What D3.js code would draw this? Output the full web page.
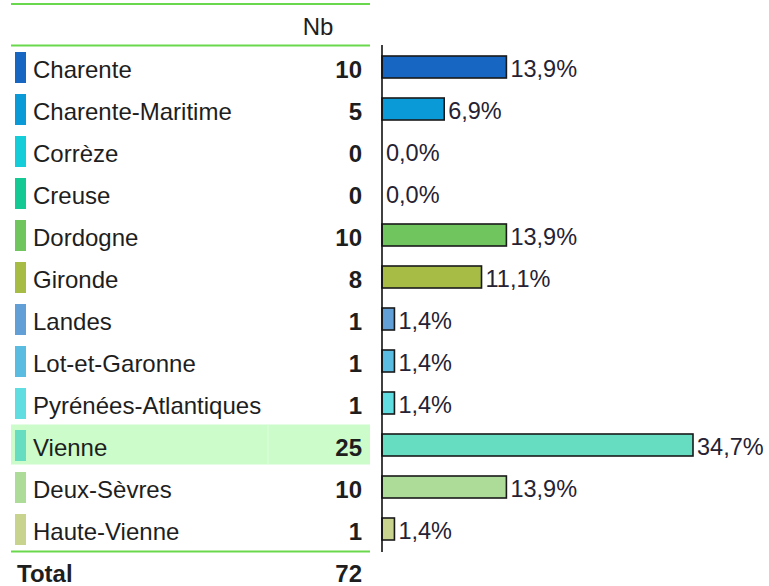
<!DOCTYPE html>
<html>
<head>
<meta charset="utf-8">
<script src="https://cdn.jsdelivr.net/npm/d3@7"></script>
<style>
    html, body { margin: 0; padding: 0; background: #fff; }
    svg text { font-family: "Liberation Sans", Arial, sans-serif; fill: #1e1e1e; }
</style>
</head>
<body>
<div id="chart"></div>
<script>
(function () {
    'use strict';

    // departements and their counts
    var categories = ['Charente', 'Charente-Maritime', 'Corrèze', 'Creuse', 'Dordogne', 'Gironde',
        'Landes', 'Lot-et-Garonne', 'Pyrénées-Atlantiques', 'Vienne', 'Deux-Sèvres', 'Haute-Vienne'];
    var counts = [10, 5, 0, 0, 10, 8, 1, 1, 1, 25, 10, 1];
    var colors = ['#1766c2', '#0a9ad8', '#14cdd8', '#14c994', '#70c55e', '#a6bc45',
        '#629fd7', '#5bbce2', '#60dde0', '#66dcc0', '#acdc98', '#c8d48e'];
    var highlighted = 'Vienne';
    var headerLabel = 'Nb';
    var totalLabel = 'Total';

    var total = d3.sum(counts);
    var rows = categories.map(function (c, i) {
        return { name: c, count: counts[i], pct: counts[i] / total * 100, color: colors[i] };
    });

    var width = 769, height = 586;
    var tableLeft = 11, tableRight = 370;
    var valueRight = 362;
    var rowTop = 46.5, rowH = 42;
    var fontSize = 24;

    var svg = d3.select('#chart').append('svg')
        .attr('width', width)
        .attr('height', height);

    var y = d3.scaleBand()
        .domain(categories)
        .range([rowTop, rowTop + rowH * categories.length]);

    var x = d3.scaleLinear()
        .domain([0, d3.max(rows, function (d) { return d.pct; })])
        .range([382, 693]);

    // header lines
    svg.append('line')
        .attr('x1', tableLeft).attr('x2', tableRight)
        .attr('y1', 4).attr('y2', 4)
        .attr('stroke', '#6ad84c').attr('stroke-width', 2);
    svg.append('text')
        .attr('x', 318).attr('y', 35)
        .attr('text-anchor', 'middle')
        .style('font-size', fontSize + 'px')
        .text(headerLabel);
    svg.append('line')
        .attr('x1', tableLeft).attr('x2', tableRight)
        .attr('y1', 45.5).attr('y2', 45.5)
        .attr('stroke', '#6ad84c').attr('stroke-width', 2);

    var row = svg.selectAll('.row')
        .data(rows)
        .enter()
        .append('g')
        .attr('class', 'row')
        .attr('transform', function (d) { return 'translate(0,' + y(d.name) + ')'; });

    // highlighted row background
    row.filter(function (d) { return d.name === highlighted; })
        .each(function () {
            var g = d3.select(this);
            g.append('rect')
                .attr('x', tableLeft).attr('y', 0)
                .attr('width', tableRight - tableLeft).attr('height', y.bandwidth() - 2)
                .attr('fill', '#cdfccb');
            g.append('line')
                .attr('x1', 268).attr('x2', 268)
                .attr('y1', 0).attr('y2', y.bandwidth() - 2)
                .attr('stroke', '#dcfdd9').attr('stroke-width', 1);
        });

    row.append('rect')
        .attr('x', 15).attr('y', 5.5)
        .attr('width', 11).attr('height', 31)
        .attr('fill', function (d) { return d.color; });

    row.append('text')
        .attr('x', 33).attr('y', rowH / 2 + 10)
        .style('font-size', fontSize + 'px')
        .text(function (d) { return d.name; });

    row.append('text')
        .attr('x', valueRight).attr('y', rowH / 2 + 10)
        .attr('text-anchor', 'end')
        .style('font-size', fontSize + 'px')
        .style('font-weight', 'bold')
        .text(function (d) { return d.count; });

    // bars
    row.filter(function (d) { return d.count > 0; })
        .append('rect')
        .attr('x', x(0))
        .attr('y', rowH / 2 - 11.5)
        .attr('width', function (d) { return x(d.pct) - x(0); })
        .attr('height', 22)
        .attr('fill', function (d) { return d.color; })
        .attr('stroke', '#1a1a1a')
        .attr('stroke-width', 1.6);

    var fmt = d3.formatLocale({ decimal: ',', thousands: ' ', grouping: [3], currency: ['', '€'] }).format('.1f');
    row.append('text')
        .attr('x', function (d) { return x(d.pct) + 4; })
        .attr('y', rowH / 2 + 9)
        .style('font-size', '23.5px')
        .style('fill', '#262233')
        .text(function (d) { return fmt(d.pct) + '%'; });

    // axis line
    svg.append('line')
        .attr('x1', x(0)).attr('x2', x(0))
        .attr('y1', 45).attr('y2', 552)
        .attr('stroke', '#111').attr('stroke-width', 1.6);

    // total line and row
    var yTotal = rowTop + rowH * categories.length;
    svg.append('line')
        .attr('x1', tableLeft).attr('x2', tableRight)
        .attr('y1', yTotal + 1).attr('y2', yTotal + 1)
        .attr('stroke', '#6ad84c').attr('stroke-width', 2);
    svg.append('text')
        .attr('x', 17).attr('y', yTotal + rowH / 2 + 10.5)
        .style('font-size', fontSize + 'px')
        .style('font-weight', 'bold')
        .text(totalLabel);
    svg.append('text')
        .attr('x', valueRight).attr('y', yTotal + rowH / 2 + 10.5)
        .attr('text-anchor', 'end')
        .style('font-size', fontSize + 'px')
        .style('font-weight', 'bold')
        .text(total);
})();
</script>
</body>
</html>
